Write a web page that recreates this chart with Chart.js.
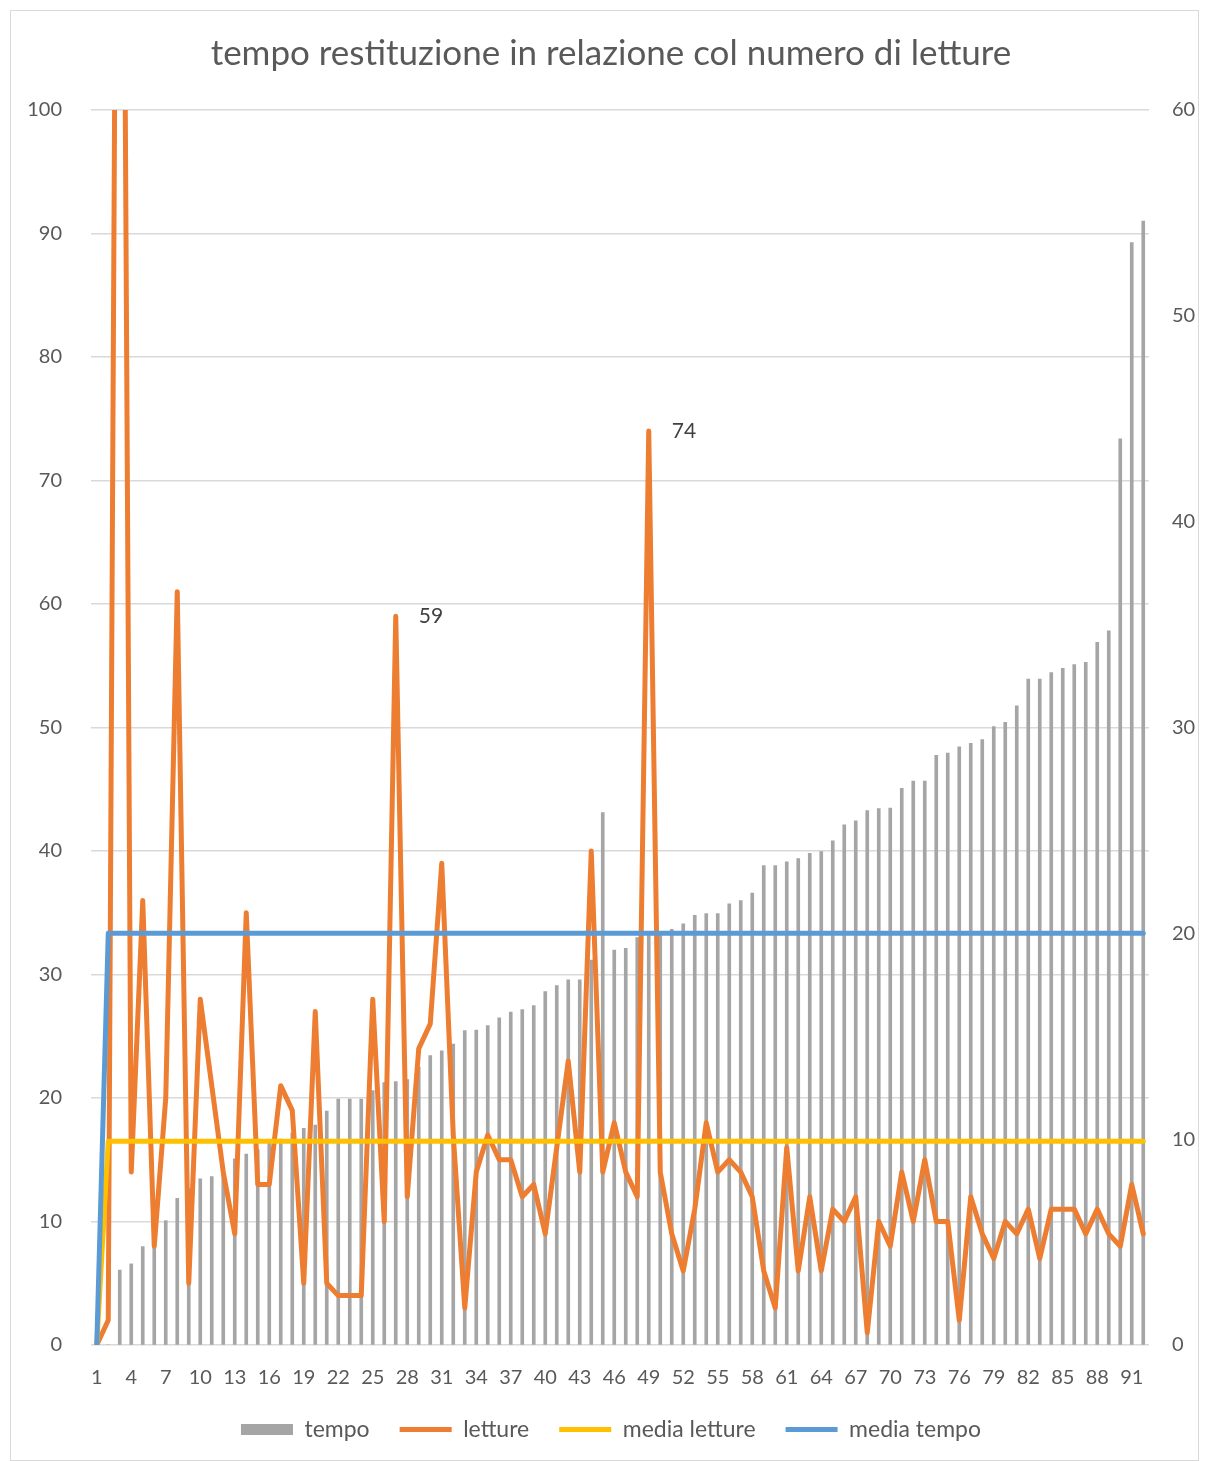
<!DOCTYPE html>
<html>
<head>
<meta charset="utf-8">
<script src="https://cdn.jsdelivr.net/npm/chart.js@4.4.0/dist/chart.umd.min.js"></script>
<style>
    html, body { margin: 0; padding: 0; background: #fff; }
    #wrap { position: relative; width: 1208px; height: 1461px; }
    #frame { position: absolute; left: 10px; top: 10px; width: 1187px; height: 1449px; border: 1px solid #d9d9d9; pointer-events: none; }
</style>
</head>
<body>
<div id="wrap">
    <canvas id="myChart" width="1208" height="1461"></canvas>
    <div id="frame"></div>
</div>
<script>
// categorie (numero progressivo)
const categorie = [
    '1', '2', '3', '4', '5', '6', '7', '8', '9', '10',
    '11', '12', '13', '14', '15', '16', '17', '18', '19', '20',
    '21', '22', '23', '24', '25', '26', '27', '28', '29', '30',
    '31', '32', '33', '34', '35', '36', '37', '38', '39', '40',
    '41', '42', '43', '44', '45', '46', '47', '48', '49', '50',
    '51', '52', '53', '54', '55', '56', '57', '58', '59', '60',
    '61', '62', '63', '64', '65', '66', '67', '68', '69', '70',
    '71', '72', '73', '74', '75', '76', '77', '78', '79', '80',
    '81', '82', '83', '84', '85', '86', '87', '88', '89', '90',
    '91', '92'
];

// tempo restituzione (asse destro)
const tempo = [
    0, 0, 3.64, 3.94, 4.78, 5.0, 6.04, 7.13, 7.6, 8.07,
    8.18, 8.6, 9.04, 9.28, 9.5, 9.9, 10.0, 10.3, 10.53, 10.69,
    11.37, 11.95, 11.95, 11.95, 12.36, 12.75, 12.8, 12.9, 13.5, 14.06,
    14.29, 14.62, 15.27, 15.3, 15.52, 15.9, 16.17, 16.3, 16.49, 17.17,
    17.46, 17.74, 17.74, 18.7, 25.87, 19.19, 19.27, 19.79, 19.9, 20.0,
    20.2, 20.46, 20.88, 20.96, 20.96, 21.43, 21.59, 21.95, 23.29, 23.29,
    23.47, 23.63, 23.89, 23.97, 24.5, 25.27, 25.46, 25.96, 26.06, 26.08,
    27.05, 27.4, 27.4, 28.65, 28.76, 29.06, 29.23, 29.41, 30.05, 30.25,
    31.05, 32.35, 32.35, 32.67, 32.87, 33.06, 33.17, 34.14, 34.7, 44.02,
    53.56, 54.6
];

// numero di letture (asse sinistro)
const letture = [
    0, 2, 180, 14, 36, 8, 20, 61, 5, 28,
    21, 14, 9, 35, 13, 13, 21, 19, 5, 27,
    5, 4, 4, 4, 28, 10, 59, 12, 24, 26,
    39, 17, 3, 14, 17, 15, 15, 12, 13, 9,
    16, 23, 14, 40, 14, 18, 14, 12, 74, 14,
    9, 6, 11, 18, 14, 15, 14, 12, 6, 3,
    16, 6, 12, 6, 11, 10, 12, 1, 10, 8,
    14, 10, 15, 10, 10, 2, 12, 9, 7, 10,
    9, 11, 7, 11, 11, 11, 9, 11, 9, 8,
    13, 9
];

const mediaLetture = [
    0, 16.5, 16.5, 16.5, 16.5, 16.5, 16.5, 16.5, 16.5, 16.5,
    16.5, 16.5, 16.5, 16.5, 16.5, 16.5, 16.5, 16.5, 16.5, 16.5,
    16.5, 16.5, 16.5, 16.5, 16.5, 16.5, 16.5, 16.5, 16.5, 16.5,
    16.5, 16.5, 16.5, 16.5, 16.5, 16.5, 16.5, 16.5, 16.5, 16.5,
    16.5, 16.5, 16.5, 16.5, 16.5, 16.5, 16.5, 16.5, 16.5, 16.5,
    16.5, 16.5, 16.5, 16.5, 16.5, 16.5, 16.5, 16.5, 16.5, 16.5,
    16.5, 16.5, 16.5, 16.5, 16.5, 16.5, 16.5, 16.5, 16.5, 16.5,
    16.5, 16.5, 16.5, 16.5, 16.5, 16.5, 16.5, 16.5, 16.5, 16.5,
    16.5, 16.5, 16.5, 16.5, 16.5, 16.5, 16.5, 16.5, 16.5, 16.5,
    16.5, 16.5
];

const mediaTempo = [
    0, 20, 20, 20, 20, 20, 20, 20, 20, 20,
    20, 20, 20, 20, 20, 20, 20, 20, 20, 20,
    20, 20, 20, 20, 20, 20, 20, 20, 20, 20,
    20, 20, 20, 20, 20, 20, 20, 20, 20, 20,
    20, 20, 20, 20, 20, 20, 20, 20, 20, 20,
    20, 20, 20, 20, 20, 20, 20, 20, 20, 20,
    20, 20, 20, 20, 20, 20, 20, 20, 20, 20,
    20, 20, 20, 20, 20, 20, 20, 20, 20, 20,
    20, 20, 20, 20, 20, 20, 20, 20, 20, 20,
    20, 20
];

// categorie con il valore scritto accanto al picco
const puntiEtichettati = ['27', '49'];

Chart.defaults.font.family = 'Lato, "Open Sans", sans-serif';
Chart.defaults.color = '#595959';

// scrive il valore delle letture a destra del picco
const etichettePlugin = {
    id: 'etichette',
    afterDatasetsDraw(chart) {
        const meta = chart.getDatasetMeta(1);
        const ctx = chart.ctx;
        ctx.save();
        ctx.font = '21px Lato';
        ctx.fillStyle = '#404040';
        ctx.textBaseline = 'middle';
        puntiEtichettati.forEach(cat => {
            const i = categorie.indexOf(cat);
            const p = meta.data[i];
            ctx.fillText(String(letture[i]), p.x + 23, p.y);
        });
        ctx.restore();
    }
};

const ctx = document.getElementById('myChart').getContext('2d');
const myChart = new Chart(ctx, {
    data: {
        labels: categorie,
        datasets: [{
            type: 'bar',
            label: 'tempo',
            data: tempo,
            yAxisID: 'y1',
            backgroundColor: '#a5a5a5',
            barThickness: 3,
            pointStyle: 'rect',
            order: 4
        }, {
            type: 'line',
            label: 'letture',
            data: letture,
            yAxisID: 'y',
            borderColor: '#ed7d31',
            backgroundColor: '#ed7d31',
            borderWidth: 5,
            borderJoinStyle: 'round',
            borderCapStyle: 'round',
            pointRadius: 0,
            pointStyle: 'line',
            tension: 0,
            order: 3
        }, {
            type: 'line',
            label: 'media letture',
            data: mediaLetture,
            yAxisID: 'y',
            borderColor: '#ffc000',
            backgroundColor: '#ffc000',
            borderWidth: 5,
            borderJoinStyle: 'round',
            borderCapStyle: 'round',
            pointRadius: 0,
            pointStyle: 'line',
            tension: 0,
            order: 2
        }, {
            type: 'line',
            label: 'media tempo',
            data: mediaTempo,
            yAxisID: 'y1',
            borderColor: '#5b9bd5',
            backgroundColor: '#5b9bd5',
            borderWidth: 5,
            borderJoinStyle: 'round',
            borderCapStyle: 'round',
            pointRadius: 0,
            pointStyle: 'line',
            tension: 0,
            order: 1
        }]
    },
    options: {
        responsive: false,
        animation: false,
        layout: {
            padding: { left: 24, right: 10, top: 10, bottom: 10 }
        },
        plugins: {
            title: {
                display: true,
                text: 'tempo restituzione in relazione col numero di letture',
                color: '#595959',
                font: { size: 35, weight: 'normal' },
                padding: { top: 23, bottom: 35 }
            },
            legend: {
                position: 'bottom',
                labels: {
                    usePointStyle: true,
                    pointStyleWidth: 52,
                    boxHeight: 11,
                    padding: 30,
                    color: '#595959',
                    font: { size: 23 },
                    sort: (a, b) => a.datasetIndex - b.datasetIndex
                }
            },
            tooltip: { enabled: false }
        },
        scales: {
            x: {
                offset: true,
                grid: { display: false },
                border: { display: false },
                ticks: {
                    autoSkip: false,
                    maxRotation: 0,
                    padding: 13,
                    font: { size: 20 },
                    color: '#595959',
                    callback: function (value, index) {
                        return index % 3 === 0 ? this.getLabelForValue(value) : '';
                    }
                },
                afterFit: (scale) => { scale.height = 43; }
            },
            y: {
                position: 'left',
                min: 0,
                max: 100,
                ticks: { stepSize: 10, padding: 29, font: { size: 20 }, color: '#595959' },
                grid: { color: '#d9d9d9', lineWidth: 1.5, drawTicks: false },
                border: { display: false },
                afterFit: (scale) => { scale.width = 67; }
            },
            y1: {
                position: 'right',
                min: 0,
                max: 60,
                ticks: { stepSize: 10, padding: 23, font: { size: 20 }, color: '#595959' },
                grid: { drawOnChartArea: false, drawTicks: false },
                border: { display: false },
                afterFit: (scale) => { scale.width = 49; }
            }
        }
    },
    plugins: [etichettePlugin]
});
</script>
</body>
</html>
